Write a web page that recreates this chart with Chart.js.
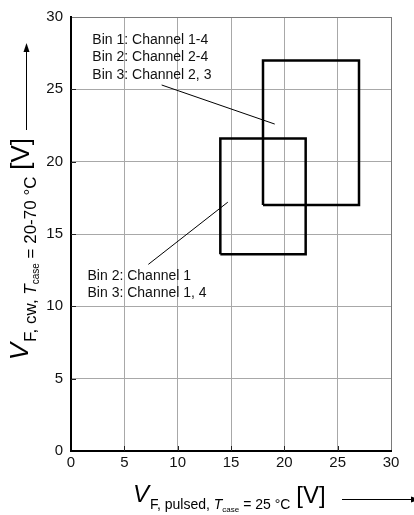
<!DOCTYPE html>
<html>
<head>
<meta charset="utf-8">
<script src="https://cdn.jsdelivr.net/npm/chart.js@4.4.1/dist/chart.umd.min.js"></script>
<style>
  html, body { margin: 0; padding: 0; background: #ffffff; }
  #wrap { width: 414px; height: 515px; position: relative; }
</style>
</head>
<body>
<div id="wrap"><canvas id="chart" width="414" height="515"></canvas></div>
<script>
// Axis ticks (volts)
const xTicks = [0, 5, 10, 15, 20, 25, 30];
const yTicks = [0, 5, 10, 15, 20, 25, 30];

// Bin window "upper" (Bin 1 ch 1-4, Bin 2 ch 2-4, Bin 3 ch 2,3)
const upperBoxX = [18, 27, 27, 18, 18];
const upperBoxY = [17, 17, 27, 27, 17];

// Bin window "lower" (Bin 2 ch 1, Bin 3 ch 1,4)
const lowerBoxX = [14, 22, 22, 14, 14];
const lowerBoxY = [13.6, 13.6, 21.6, 21.6, 13.6];

// Leader lines from the notes to their boxes
const upperLeaderX = [8.5, 19.1];
const upperLeaderY = [25.3, 22.6];
const lowerLeaderX = [7.25, 14.7];
const lowerLeaderY = [12.9, 17.2];

// Note texts
const upperNote = ['Bin 1: Channel 1-4', 'Bin 2: Channel 2-4', 'Bin 3: Channel 2, 3'];
const lowerNote = ['Bin 2: Channel 1', 'Bin 3: Channel 1, 4'];

const FONT = '"Liberation Sans", Arial, sans-serif';

function pts(xs, ys) { return xs.map((x, i) => ({ x: x, y: ys[i] })); }

function lineSet(xs, ys, width) {
  return {
    data: pts(xs, ys),
    showLine: true,
    borderColor: '#000000',
    backgroundColor: '#000000',
    borderWidth: width,
    pointRadius: 0,
    pointHoverRadius: 0,
    tension: 0,
    fill: false,
    borderJoinStyle: 'miter',
    borderCapStyle: 'butt'
  };
}

// Draws (or just measures) a "V_sub [V]" title along the current x direction
function drawTitle(ctx, sub1, sub2, sz, draw) {
  const parts = [
    { t: 'V', f: 'italic ' + sz.big + 'px ', dy: 0, gap: 1 },
    { t: sub1, f: sz.sub + 'px ', dy: sz.subDy, gap: 0 },
    { t: 'T', f: 'italic ' + sz.sub + 'px ', dy: sz.subDy, gap: 0 },
    { t: 'case', f: sz.tiny + 'px ', dy: sz.tinyDy, gap: 0 },
    { t: sub2, f: sz.sub + 'px ', dy: sz.subDy, gap: 2 },
    { t: '[V]', f: sz.big + 'px ', dy: 1, gap: 0 }
  ];
  let x = 0;
  ctx.textBaseline = 'alphabetic';
  ctx.textAlign = 'left';
  parts.forEach(p => {
    ctx.font = p.f + FONT;
    if (draw) ctx.fillText(p.t, x, p.dy);
    x += ctx.measureText(p.t).width + p.gap;
  });
  return x;
}

const xTitleSize = { big: 24, sub: 14, subDy: 7, tiny: 8, tinyDy: 10 };
const yTitleSize = { big: 26, sub: 17, subDy: 8, tiny: 10, tinyDy: 11 };

const decorations = {
  id: 'decorations',
  beforeDraw(chart) {
    const ctx = chart.ctx;
    ctx.save();
    ctx.fillStyle = '#ffffff';
    ctx.fillRect(0, 0, chart.width, chart.height);
    ctx.restore();
  },
  afterDatasetsDraw(chart) {
    const ctx = chart.ctx;
    const xs = chart.scales.x, ys = chart.scales.y;
    const area = chart.chartArea;
    ctx.save();

    // inward tick marks on the left and bottom axes
    ctx.strokeStyle = '#222222';
    ctx.lineWidth = 1;
    xTicks.slice(1, -1).forEach(v => {
      const px = Math.round(xs.getPixelForValue(v)) + 0.5;
      ctx.beginPath();
      ctx.moveTo(px, area.bottom);
      ctx.lineTo(px, area.bottom - 5);
      ctx.stroke();
    });
    yTicks.slice(1, -1).forEach(v => {
      const py = Math.round(ys.getPixelForValue(v)) + 0.5;
      ctx.beginPath();
      ctx.moveTo(area.left, py);
      ctx.lineTo(area.left + 5, py);
      ctx.stroke();
    });

    // notes
    ctx.fillStyle = '#111111';
    ctx.font = '14px ' + FONT;
    ctx.textAlign = 'left';
    ctx.textBaseline = 'alphabetic';
    const ux = xs.getPixelForValue(2.0), uy = ys.getPixelForValue(28.15);
    upperNote.forEach((t, i) => ctx.fillText(t, ux, uy + i * 17.5));
    const lx = xs.getPixelForValue(1.55), ly = ys.getPixelForValue(11.85);
    lowerNote.forEach((t, i) => ctx.fillText(t, lx, ly + i * 17.5));

    // x-axis title with arrow
    ctx.fillStyle = '#000000';
    ctx.save();
    ctx.translate(133, 502);
    drawTitle(ctx, 'F, pulsed, ', ' = 25 °C ', xTitleSize, true);
    ctx.restore();
    ctx.strokeStyle = '#000000';
    ctx.lineWidth = 1;
    ctx.beginPath();
    ctx.moveTo(342, 499.5);
    ctx.lineTo(412, 499.5);
    ctx.stroke();
    ctx.beginPath();
    ctx.moveTo(420, 499.5);
    ctx.lineTo(411, 496.5);
    ctx.lineTo(411, 502.5);
    ctx.closePath();
    ctx.fill();

    // y-axis title (reads upward, ends just below the arrow) with arrow
    const yLen = drawTitle(ctx, 'F, cw, ', ' = 20-70 °C ', yTitleSize, false);
    ctx.save();
    ctx.translate(28, 138 + yLen);
    ctx.rotate(-Math.PI / 2);
    drawTitle(ctx, 'F, cw, ', ' = 20-70 °C ', yTitleSize, true);
    ctx.restore();
    ctx.beginPath();
    ctx.moveTo(26.5, 130);
    ctx.lineTo(26.5, 50);
    ctx.stroke();
    ctx.beginPath();
    ctx.moveTo(26.5, 43);
    ctx.lineTo(23.5, 52);
    ctx.lineTo(29.5, 52);
    ctx.closePath();
    ctx.fill();

    ctx.restore();
  }
};

const gridColor = ctx => (ctx.tick && ctx.tick.value === 30) ? '#7a7a7a' : '#a8a8a8';

new Chart(document.getElementById('chart'), {
  type: 'scatter',
  data: {
    datasets: [
      lineSet(upperBoxX, upperBoxY, 2.5),
      lineSet(lowerBoxX, lowerBoxY, 2.5),
      lineSet(upperLeaderX, upperLeaderY, 1),
      lineSet(lowerLeaderX, lowerLeaderY, 1)
    ]
  },
  options: {
    responsive: false,
    animation: false,
    devicePixelRatio: 1,
    layout: { padding: { left: 0, top: 13, right: 23, bottom: 0 } },
    plugins: { legend: { display: false }, tooltip: { enabled: false } },
    scales: {
      x: {
        type: 'linear',
        min: 0, max: 30,
        afterBuildTicks: s => { s.ticks = xTicks.map(v => ({ value: v })); },
        afterFit: s => { s.height = 64; },
        grid: { color: gridColor, lineWidth: 1, drawTicks: false },
        border: { color: '#000000', width: 2 },
        ticks: { color: '#111111', padding: 3, font: { family: FONT, size: 15 }, maxRotation: 0 }
      },
      y: {
        type: 'linear',
        min: 0, max: 30,
        afterBuildTicks: s => { s.ticks = yTicks.map(v => ({ value: v })); },
        afterFit: s => { s.width = 71; },
        grid: { color: gridColor, lineWidth: 1, drawTicks: false },
        border: { color: '#000000', width: 2 },
        ticks: { color: '#111111', padding: 8, font: { family: FONT, size: 15 } }
      }
    }
  },
  plugins: [decorations]
});
</script>
</body>
</html>
